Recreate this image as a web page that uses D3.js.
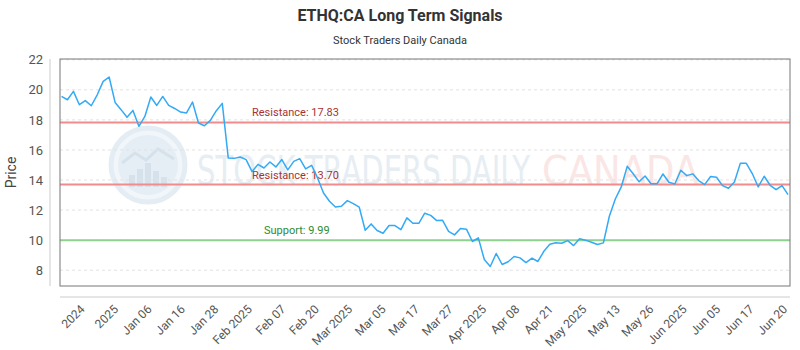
<!DOCTYPE html>
<html>
<head>
<meta charset="utf-8">
<script src="https://cdn.jsdelivr.net/npm/d3@7/dist/d3.min.js"></script>
<style>
  html, body { margin: 0; padding: 0; background: #fff; }
  svg { display: block; font-family: Roboto, "Noto Sans", sans-serif; }
</style>
</head>
<body>
<svg id="chart" width="800" height="350"></svg>
<script>
// Closing prices, one per trading session
const prices = [
  19.56, 19.34, 19.90, 19.01, 19.28, 18.94, 19.67, 20.56, 20.85, 19.16,
  18.68, 18.17, 18.63, 17.57, 18.23, 19.52, 18.96, 19.56, 18.96, 18.76,
  18.52, 18.46, 19.19, 17.79, 17.61, 17.97, 18.61, 19.10, 15.47, 15.44,
  15.53, 15.36, 14.56, 15.04, 14.80, 15.20, 14.87, 15.36, 14.67, 15.24,
  15.42, 14.74, 14.98, 14.14, 13.14, 12.59, 12.21, 12.26, 12.63, 12.43,
  12.19, 10.66, 11.08, 10.64, 10.46, 10.97, 10.97, 10.70, 11.48, 11.12,
  11.12, 11.79, 11.65, 11.30, 11.32, 10.59, 10.35, 10.77, 10.73, 9.91,
  10.15, 8.71, 8.25, 9.11, 8.38, 8.56, 8.91, 8.82, 8.51, 8.80,
  8.58, 9.26, 9.73, 9.82, 9.79, 9.97, 9.64, 10.09, 10.00, 9.86,
  9.71, 9.82, 11.59, 12.74, 13.54, 14.91, 14.42, 13.88, 14.27, 13.75,
  13.75, 14.40, 13.85, 13.74, 14.65, 14.29, 14.41, 13.96, 13.69, 14.23,
  14.18, 13.63, 13.45, 13.87, 15.11, 15.11, 14.43, 13.54, 14.25, 13.65,
  13.36, 13.63, 13.03
];

// Date labels shown along the bottom axis
const xLabels = [
  "2024", "2025", "Jan 06", "Jan 16", "Jan 28", "Feb 2025", "Feb 07", "Feb 20",
  "Mar 2025", "Mar 05", "Mar 17", "Mar 27", "Apr 2025", "Apr 08", "Apr 21",
  "May 2025", "May 13", "May 26", "Jun 2025", "Jun 05", "Jun 17", "Jun 20"
];

const yTicks = [8, 10, 12, 14, 16, 18, 20, 22];

// Horizontal signal levels
const levelNames  = ["Resistance", "Resistance", "Support"];
const levelValues = [17.83, 13.70, 9.99];
const levelKinds  = ["res", "res", "sup"];

const svg = d3.select("#chart");
const W = 800, H = 350;
const plot = { left: 60, right: 790, top: 59, bottom: 286 };

const y = d3.scaleLinear().domain([6.95, 22.05]).range([plot.bottom, plot.top]);
const x = d3.scaleLinear().domain([0, prices.length - 1]).range([61.5, 788]);
const xl = d3.scalePoint().domain(xLabels).range([85, 787.5]);

// Title block
svg.append("text")
  .attr("x", W / 2).attr("y", 21)
  .attr("text-anchor", "middle")
  .attr("font-size", 16).attr("font-weight", "bold")
  .attr("fill", "#333")
  .text("ETHQ:CA Long Term Signals");
svg.append("text")
  .attr("x", W / 2).attr("y", 44)
  .attr("text-anchor", "middle")
  .attr("font-size", 11)
  .attr("fill", "#333")
  .text("Stock Traders Daily Canada");

// Watermark: logo disc and wordmark
const wm = svg.append("g");
const cx = 148, cy = 165;
wm.append("circle").attr("cx", cx).attr("cy", cy).attr("r", 37)
  .attr("fill", "#f1f6fa").attr("stroke", "#e4edf4").attr("stroke-width", 5);
wm.append("circle").attr("cx", cx).attr("cy", cy).attr("r", 30)
  .attr("fill", "#e6eef5");
[[-16, 12], [-8, 18], [0, 24], [8, 16], [16, 10]].forEach(([dx, h]) => {
  wm.append("rect").attr("x", cx + dx - 3).attr("y", cy + 22 - h)
    .attr("width", 6).attr("height", h).attr("fill", "#d5e2ec");
});
wm.append("path")
  .attr("d", `M${cx - 26},${cy - 2} L${cx - 13},${cy - 12} L${cx - 2},${cy - 5} L${cx + 10},${cy - 16} L${cx + 26},${cy - 6}`)
  .attr("fill", "none").attr("stroke", "#d5e2ec").attr("stroke-width", 3);

// Wordmark pieces, each squeezed horizontally to its slot width
function wordmark(str, x0, width, color) {
  const t = wm.append("text")
    .attr("font-size", 40)
    .attr("font-family", "'Liberation Sans Narrow', 'DejaVu Sans Condensed', sans-serif")
    .attr("fill", color)
    .text(str);
  const natural = t.node().getComputedTextLength();
  t.attr("transform", `translate(${x0},185) scale(${width / natural},1)`);
}
wordmark("STOCK TRADERS DAILY", 197, 333, "#e6edf3");
wordmark("CANADA", 542, 157, "#fbe6e6");

// Horizontal grid
svg.append("g")
  .selectAll("line")
  .data(yTicks)
  .join("line")
  .attr("x1", plot.left).attr("x2", plot.right)
  .attr("y1", d => y(d)).attr("y2", d => y(d))
  .attr("stroke", "#e2e2e2").attr("stroke-dasharray", "3,3");

// Y axis
const yAxis = svg.append("g")
  .attr("transform", `translate(50,0)`)
  .call(d3.axisLeft(y).tickValues(yTicks).tickSize(0).tickPadding(7));
yAxis.select(".domain").attr("stroke", "#ccc").attr("d", `M0,${plot.top}V${plot.bottom}`);
yAxis.selectAll("text").attr("font-size", 13).attr("fill", "#555")
  .attr("font-family", "Roboto, sans-serif");

svg.append("text")
  .attr("transform", `translate(16,${(plot.top + plot.bottom) / 2}) rotate(-90)`)
  .attr("text-anchor", "middle")
  .attr("font-size", 14).attr("fill", "#444")
  .text("Price");

// X axis
const xAxis = svg.append("g")
  .attr("transform", `translate(0,297)`)
  .call(d3.axisBottom(xl).tickSize(0).tickPadding(0));
xAxis.select(".domain").attr("stroke", "#ccc").attr("d", `M${plot.left},0H${plot.right}`);
xAxis.selectAll("text")
  .attr("font-size", 12).attr("fill", "#555")
  .attr("font-family", "Roboto, sans-serif")
  .attr("text-anchor", "end")
  .attr("dy", null).attr("y", 0)
  .attr("transform", "translate(0,13) rotate(-45)");

// Signal levels
const levels = levelValues.map((v, i) => ({ name: levelNames[i], value: v, kind: levelKinds[i] }));
svg.append("g")
  .selectAll("line")
  .data(levels)
  .join("line")
  .attr("x1", plot.left).attr("x2", plot.right)
  .attr("y1", d => y(d.value)).attr("y2", d => y(d.value))
  .attr("stroke", d => d.kind === "res" ? "#f08c8c" : "#8fd18f")
  .attr("stroke-width", 2);
svg.append("g")
  .selectAll("text")
  .data(levels)
  .join("text")
  .attr("x", d => d.kind === "res" ? 252 : 264)
  .attr("y", d => y(d.value) - 6)
  .attr("font-size", 11)
  .attr("fill", d => d.kind === "res" ? "#a83232" : "#2e8b2e")
  .text(d => `${d.name}: ${d.value.toFixed(2)}`);

// Price line
svg.append("path")
  .datum(prices)
  .attr("fill", "none")
  .attr("stroke", "#33aaf5")
  .attr("stroke-width", 1.5)
  .attr("stroke-linejoin", "round")
  .attr("d", d3.line().x((d, i) => x(i)).y(d => y(d)));

// Plot frame
svg.append("rect")
  .attr("x", plot.left).attr("y", plot.top)
  .attr("width", plot.right - plot.left).attr("height", plot.bottom - plot.top)
  .attr("fill", "none").attr("stroke", "#777").attr("stroke-width", 1);
</script>
</body>
</html>
